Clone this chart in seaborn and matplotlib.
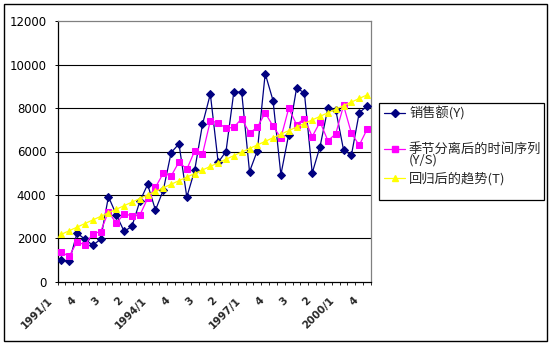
import matplotlib
matplotlib.use("Agg")
import matplotlib.pyplot as plt
from matplotlib.lines import Line2D
from matplotlib.patches import Rectangle
from matplotlib.transforms import ScaledTranslation
import numpy as np
import pandas as pd
import seaborn as sns

# Quarterly sales, 1991 Q1 - 2000 Q4
quarter_labels = ["1991/1", "", "", "4", "", "", "3", "", "", "2",
                  "", "", "1994/1", "", "", "4", "", "", "3", "",
                  "", "2", "", "", "1997/1", "", "", "4", "", "",
                  "3", "", "", "2", "", "", "2000/1", "", "", "4"]

sales_y = [1000, 940, 2245, 1955, 1680, 1955, 3920, 3090, 2320, 2550,
           3700, 4480, 3300, 4220, 5950, 6350, 3900, 5130, 7250, 8650,
           5500, 6000, 8750, 8730, 5070, 6040, 9590, 8350, 4930, 6780,
           8910, 8710, 5010, 6230, 8000, 7920, 6070, 5830, 7790, 8090]

deseasonalized = [1355, 1170, 1845, 1690, 2215, 2305, 3230, 2690, 3135, 3030,
                  3060, 3840, 4350, 5000, 4870, 5520, 5180, 6025, 5870, 7420,
                  7315, 7070, 7115, 7515, 6855, 7115, 7780, 7170, 6625, 7990,
                  7240, 7520, 6690, 7360, 6500, 6810, 8120, 6840, 6290, 7025]

trend = [2185, 2350, 2515, 2680, 2844, 3009, 3173, 3338, 3503, 3667,
         3832, 3997, 4161, 4326, 4491, 4655, 4820, 4985, 5149, 5314,
         5479, 5644, 5808, 5973, 6138, 6302, 6467, 6632, 6796, 6961,
         7126, 7290, 7455, 7620, 7784, 7949, 8114, 8278, 8443, 8608]

series_names = ["销售额(Y)", "季节分离后的时间序列(Y/S)", "回归后的趋势(T)"]
y_ticks = [0, 2000, 4000, 6000, 8000, 10000, 12000]

sns.set_style("white")
plt.rcParams["font.family"] = ["DejaVu Sans"]
cjk = ["Noto Sans CJK SC", "DejaVu Sans"]

W, H = 553, 345
DPI = 100
fig = plt.figure(figsize=(W / DPI, H / DPI), dpi=DPI)
fig.patch.set_facecolor("white")


def fx(px):
    return px / W


def fy(py):
    return 1 - py / H


# plot area
left, right, top, bottom = 57.5, 371.0, 21.3, 281.7
ax = fig.add_axes([fx(left), fy(bottom), fx(right) - fx(left), fy(top) - fy(bottom)])
ax.set_facecolor("white")

idx = np.arange(len(sales_y))
df = pd.DataFrame({"q": idx, "Y": sales_y, "YS": deseasonalized, "T": trend})

styles = [
    ("Y", "#000080", "D", 3.6),
    ("YS", "#FF00FF", "s", 3.9),
    ("T", "#FFFF00", "^", 5.0),
]
for col, color, marker, ms in styles:
    sns.lineplot(data=df, x="q", y=col, ax=ax, color=color, marker=marker,
                 markersize=ms, markeredgecolor=color, markerfacecolor=color,
                 linewidth=0.9, zorder=3)

ax.set_xlim(-0.5, len(sales_y) - 0.5)
ax.set_ylim(0, 12000)
ax.set_xlabel("")
ax.set_ylabel("")

# gridlines
for v in y_ticks[1:-1]:
    ax.axhline(v, color="black", linewidth=0.8, zorder=1)

ax.set_yticks(y_ticks)
ax.set_yticklabels([str(v) for v in y_ticks])
ax.tick_params(axis="y", direction="out", length=2.5, width=0.7, pad=5.5,
               labelsize=8.5, colors="black", left=True)

# category labels every third quarter, tick marks between categories
ax.set_xticks(idx)
ax.set_xticklabels(quarter_labels, rotation=45, ha="right", va="top",
                   fontsize=7.5, fontweight="bold")
ax.tick_params(axis="x", which="major", length=0, pad=10)
ax.set_xticks(np.arange(-0.5, len(sales_y), 1.0), minor=True)
ax.tick_params(axis="x", which="minor", direction="out", length=2.5,
               width=0.7, bottom=True)
shift = ScaledTranslation(-7 / DPI, 0, fig.dpi_scale_trans)
for lab in ax.get_xticklabels():
    lab.set_transform(lab.get_transform() + shift)

for side in ["left", "bottom"]:
    ax.spines[side].set_color("black")
    ax.spines[side].set_linewidth(0.9)
for side in ["top", "right"]:
    ax.spines[side].set_visible(True)
    ax.spines[side].set_color("#808080")
    ax.spines[side].set_linewidth(0.9)

# legend
lx0, ly0, lx1, ly1 = 379.3, 103.3, 544.3, 200.0
fig.add_artist(Rectangle((fx(lx0), fy(ly1)), fx(lx1) - fx(lx0), fy(ly0) - fy(ly1),
                         transform=fig.transFigure, fill=False,
                         edgecolor="black", linewidth=0.9))
entry_y = [113.3, 149.0, 178.3]
for (col, color, marker, ms), yy in zip(styles, entry_y):
    fig.add_artist(Line2D([fx(384), fx(405)], [fy(yy), fy(yy)],
                          transform=fig.transFigure, color=color, linewidth=0.9))
    fig.add_artist(Line2D([fx(394.5)], [fy(yy)], transform=fig.transFigure,
                          color=color, marker=marker, markersize=ms,
                          markeredgecolor=color, markerfacecolor=color))

fig.text(fx(409), fy(entry_y[0]), series_names[0], family=cjk, fontsize=9.5,
         va="center", ha="left")
fig.text(fx(409), fy(entry_y[1]), "季节分离后的时间序列", family=cjk,
         fontsize=9.5, va="center", ha="left")
fig.text(fx(409), fy(160.5), "(Y/S)", family=cjk, fontsize=9.5,
         va="center", ha="left")
fig.text(fx(409), fy(entry_y[2]), series_names[2], family=cjk, fontsize=9.5,
         va="center", ha="left")

# chart border
fig.add_artist(Rectangle((fx(4.3), fy(340.7)), fx(546.7) - fx(4.3),
                         fy(4.3) - fy(340.7), transform=fig.transFigure,
                         fill=False, edgecolor="black", linewidth=1.0))

fig.savefig("out.png", dpi=DPI, facecolor="white")
